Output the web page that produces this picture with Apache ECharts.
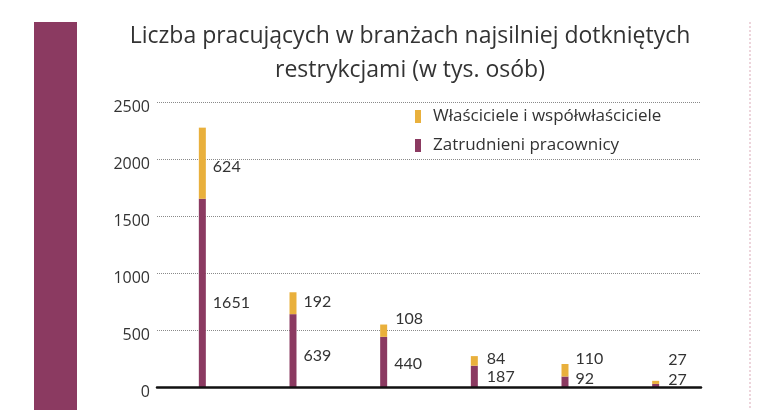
<!DOCTYPE html>
<html>
<head>
<meta charset="utf-8">
<script src="https://cdn.jsdelivr.net/npm/echarts@6/dist/echarts.min.js"></script>
<style>
html,body{margin:0;padding:0;background:#fff;}
#c{width:778px;height:410px;}
</style>
</head>
<body>
<div id="c"></div>
<script>
// ---- data ----
var categories = ['1', '2', '3', '4', '5', '6'];
var employees = [1651, 639, 440, 187, 92, 27];   // Zatrudnieni pracownicy
var owners = [624, 192, 108, 84, 110, 27];       // Właściciele i współwłaściciele
var yTicks = [0, 500, 1000, 1500, 2000, 2500];
var titleText = 'Liczba pracujących w branżach najsilniej dotkniętych\nrestrykcjami (w tys. osób)';
var nameEmployees = 'Zatrudnieni pracownicy';
var nameOwners = 'Właściciele i współwłaściciele';

// ---- label placement (presentation only) ----
var empLabelOffsets = [[0, 10], [0, 5], [0, 2], [2, 1], [0, -3], [2, -6]];
var ownLabelOffsets = [[0, 4], [0, -1], [1, -12], [2, -2], [0, -11], [2, -23]];

var FONT = '"Open Sans", Lato, sans-serif';
var NUMFONT = 'Lato, "Open Sans", sans-serif';
var MAROON = '#8b3a61';
var GOLD = '#e9b03c';

function withOffsets(vals, offs) {
  return vals.map(function (v, i) {
    return { value: v, label: { offset: offs[i] } };
  });
}

var chart = echarts.init(document.getElementById('c'), null, { renderer: 'canvas' });
chart.setOption({
  animation: false,
  backgroundColor: '#ffffff',
  title: {
    text: titleText,
    left: 405,
    textAlign: 'center',
    top: 14,
    textStyle: {
      fontFamily: FONT,
      fontSize: 23,
      fontWeight: 'normal',
      color: '#333333',
      lineHeight: 34
    }
  },
  legend: {
    orient: 'vertical',
    left: 410,
    top: 103,
    itemWidth: 6,
    itemHeight: 13,
    itemGap: 12,
    icon: 'rect',
    data: [nameOwners, nameEmployees],
    textStyle: { fontFamily: FONT, fontSize: 17, color: '#333333', padding: [0, 0, 0, 7] }
  },
  graphic: [
    { type: 'rect', shape: { x: 34, y: 22, width: 43, height: 400 }, style: { fill: MAROON }, z: -1 },
    { type: 'line', shape: { x1: 750, y1: 22, x2: 750, y2: 410 },
      style: { stroke: '#dcaab8', lineWidth: 1, lineDash: [2, 2] }, z: -1 }
  ],
  grid: { left: 157, right: 77, top: 102, bottom: 23, containLabel: false },
  xAxis: {
    type: 'category',
    data: categories,
    axisLine: { show: true, lineStyle: { color: '#111111', width: 2.5 } },
    axisTick: { show: false },
    axisLabel: { show: false },
    z: 10
  },
  yAxis: {
    type: 'value',
    min: yTicks[0],
    max: yTicks[yTicks.length - 1],
    interval: 500,
    axisLine: { show: false },
    axisTick: { show: false },
    axisLabel: {
      fontFamily: FONT, fontSize: 16, color: '#333333', margin: 7,
      verticalAlign: 'top', lineHeight: 10,
      formatter: function (v) { return String(v); }
    },
    splitLine: { lineStyle: { color: '#8a8a8a', width: 1, type: [1, 1] } }
  },
  series: [
    {
      name: nameEmployees,
      type: 'bar',
      stack: 'total',
      barWidth: 7,
      itemStyle: { color: MAROON },
      data: withOffsets(employees, empLabelOffsets),
      label: {
        show: true, position: 'right', distance: 7,
        fontFamily: NUMFONT, fontSize: 16, color: '#333333'
      }
    },
    {
      name: nameOwners,
      type: 'bar',
      stack: 'total',
      barWidth: 7,
      itemStyle: { color: GOLD },
      data: withOffsets(owners, ownLabelOffsets),
      label: {
        show: true, position: 'right', distance: 7,
        fontFamily: NUMFONT, fontSize: 16, color: '#333333'
      }
    }
  ]
});
</script>
</body>
</html>
